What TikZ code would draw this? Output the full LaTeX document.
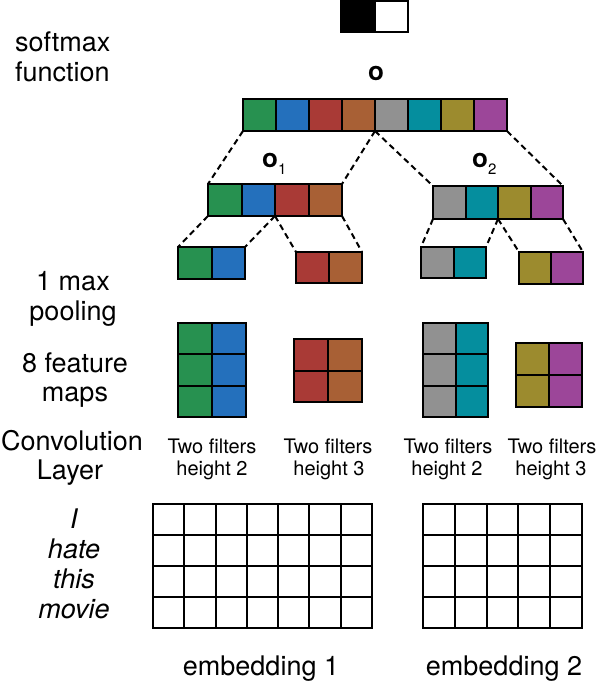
\documentclass[tikz,border=0pt]{standalone}
\usepackage{fontspec}
\setmainfont{TeX Gyre Heros}
\definecolor{cgreen}{HTML}{279150}
\definecolor{cblue}{HTML}{2470BC}
\definecolor{cred}{HTML}{A93A36}
\definecolor{corange}{HTML}{A86035}
\definecolor{cgrey}{HTML}{919191}
\definecolor{cteal}{HTML}{058E9E}
\definecolor{colive}{HTML}{9C8B2E}
\definecolor{cpurple}{HTML}{9C4699}
\begin{document}
\begin{tikzpicture}[x=1pt,y=-1pt,
  cell/.style={draw=black, line width=2pt, inner sep=0pt, outer sep=0pt},
  dashlink/.style={draw=black, line width=2pt, dash pattern=on 6pt off 4pt},
  lab/.style={inner sep=0pt, anchor=base, font=\fontsize{27}{30}\selectfont},
  small/.style={inner sep=0pt, anchor=base, font=\fontsize{20}{22}\selectfont},
  word/.style={inner sep=0pt, anchor=base, font=\fontsize{27}{30}\selectfont\itshape}]
\useasboundingbox (0,0) rectangle (598,682);

% softmax output box
\node[cell, fill=black, minimum width=34pt, minimum height=31pt] (sm1) at (358,17) {};
\node[cell, fill=white, minimum width=33pt, minimum height=31pt] (sm2) at (391.5,17) {};

% labels o
\node[inner sep=0pt, anchor=base, font=\fontsize{26}{26}\selectfont\bfseries] (olab) at (376,81) {o};
\node[inner sep=0pt, anchor=base west] (o1lab) at (262,167.5) {{\fontsize{26}{26}\selectfont\bfseries o}\raisebox{-6.5pt}{\fontsize{15}{15}\selectfont 1}};
\node[inner sep=0pt, anchor=base west] (o2lab) at (472,167.5) {{\fontsize{26}{26}\selectfont\bfseries o}\raisebox{-6.5pt}{\fontsize{15}{15}\selectfont 2}};

% top vector o
\foreach \col [count=\i] in {cgreen,cblue,cred,corange,cgrey,cteal,colive,cpurple}
  \node[cell, fill=\col, minimum width=33pt, minimum height=32pt] (t\i) at ({259.5+33*(\i-1)},115) {};

% o1 and o2
\foreach \col [count=\i] in {cgreen,cblue,cred,corange}
  \node[cell, fill=\col, minimum width=33.5pt, minimum height=32pt] (a\i) at ({224.75+33.5*(\i-1)},200) {};
\foreach \col [count=\i] in {cgrey,cteal,colive,cpurple}
  \node[cell, fill=\col, minimum width=32.5pt, minimum height=33pt] (b\i) at ({449.25+32.5*(\i-1)},202.5) {};

% max pooling pairs
\node[cell, fill=cgreen, minimum width=33.5pt, minimum height=32pt] (p11) at (194.75,263) {};
\node[cell, fill=cblue, minimum width=33.5pt, minimum height=32pt] (p12) at (228.25,263) {};
\node[cell, fill=cred, minimum width=33pt, minimum height=31pt] (p21) at (312.5,267.5) {};
\node[cell, fill=corange, minimum width=33pt, minimum height=31pt] (p22) at (345.5,267.5) {};
\node[cell, fill=cgrey, minimum width=32.5pt, minimum height=31pt] (p31) at (437.25,262.5) {};
\node[cell, fill=cteal, minimum width=32.5pt, minimum height=31pt] (p32) at (469.75,262.5) {};
\node[cell, fill=colive, minimum width=32pt, minimum height=32pt] (p41) at (535,268) {};
\node[cell, fill=cpurple, minimum width=32pt, minimum height=32pt] (p42) at (567,268) {};

% feature maps
\foreach \r in {1,2,3} {
  \foreach \c/\col in {1/cgreen,2/cblue}
    \node[cell, fill=\col, minimum width=34pt, minimum height=31.33pt] (fa\r\c) at ({195+34*(\c-1)},{338.67+31.33*(\r-1)}) {};
  \foreach \c/\col in {1/cgrey,2/cteal}
    \node[cell, fill=\col, minimum width=32.5pt, minimum height=31.33pt] (fc\r\c) at ({439.25+32.5*(\c-1)},{338.67+31.33*(\r-1)}) {};
}
\foreach \r in {1,2} {
  \foreach \c/\col in {1/cred,2/corange}
    \node[cell, fill=\col, minimum width=34pt, minimum height=31.5pt] (fb\r\c) at ({311+34*(\c-1)},{354.75+31.5*(\r-1)}) {};
  \foreach \c/\col in {1/colive,2/cpurple}
    \node[cell, fill=\col, minimum width=33pt, minimum height=32pt] (fd\r\c) at ({532.5+33*(\c-1)},{359+32*(\r-1)}) {};
}

% embeddings
\foreach \r in {1,...,4} {
  \foreach \c in {1,...,7}
    \node[cell, minimum width=31.29pt, minimum height=31pt] (ea\r\c) at ({168.64+31.29*(\c-1)},{519.5+31*(\r-1)}) {};
  \foreach \c in {1,...,5}
    \node[cell, minimum width=31.8pt, minimum height=31pt] (eb\r\c) at ({438.9+31.8*(\c-1)},{519.5+31*(\r-1)}) {};
}

% dashed connectors
\draw[dashlink] (t1.south west) -- (a1.north west);
\draw[dashlink] (t4.south east) -- (a4.north east);
\draw[dashlink] (t4.south east) -- (b1.north west);
\draw[dashlink] (t8.south east) -- (b4.north east);
\draw[dashlink] (a1.south west) -- (p11.north west);
\draw[dashlink] (a2.south east) -- (p12.north east);
\draw[dashlink] (a2.south east) -- (p21.north west);
\draw[dashlink] (a4.south east) -- (p22.north east);
\draw[dashlink] (b1.south west) -- (p31.north west);
\draw[dashlink] (b2.south east) -- (p32.north east);
\draw[dashlink] (b2.south east) -- (p41.north west);
\draw[dashlink] (b4.south east) -- (p42.north east);

% left labels
\node[lab, anchor=base west] (l1) at (15,52) {softmax};
\node[lab, anchor=base west] (l2) at (15,82) {function};
\node[lab] (l3) at (73,290) {1 max};
\node[lab] (l4) at (73,320) {pooling};
\node[lab] (l5) at (75,372) {8 feature};
\node[lab] (l6) at (75,401) {maps};
\node[lab] (l7) at (72,450) {Convolution};
\node[lab] (l8) at (70,479) {Layer};
\node[word] (w1) at (74,528) {I};
\node[word] (w2) at (74,558) {hate};
\node[word] (w3) at (74,588) {this};
\node[word] (w4) at (74,618) {movie};

% filter labels
\node[small] (f1a) at (212,453) {Two filters};
\node[small] (f1b) at (212,475) {height 2};
\node[small] (f2a) at (328,453) {Two filters};
\node[small] (f2b) at (329,475) {height 3};
\node[small] (f3a) at (448,453) {Two filters};
\node[small] (f3b) at (447,475) {height 2};
\node[small] (f4a) at (552,453) {Two filters};
\node[small] (f4b) at (551,475) {height 3};

% embedding labels
\node[lab] (emb1) at (261,675) {embedding 1};
\node[lab] (emb2) at (504,675) {embedding 2};
\end{tikzpicture}
\end{document}
